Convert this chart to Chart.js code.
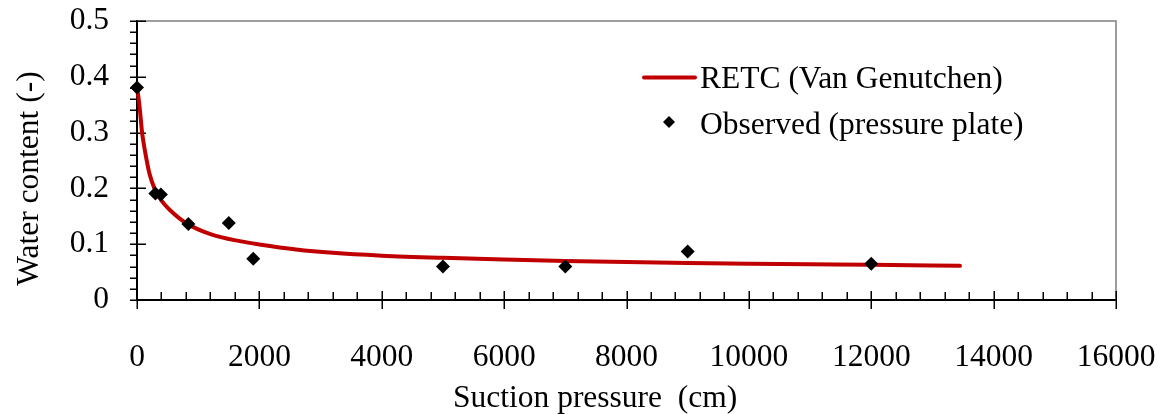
<!DOCTYPE html>
<html>
<head>
<meta charset="utf-8">
<script src="https://cdn.jsdelivr.net/npm/chart.js@4/dist/chart.umd.min.js"></script>
<style>
  html, body { margin: 0; padding: 0; background: #ffffff; }
  canvas { display: block; }
</style>
</head>
<body>
<canvas id="c" width="1169" height="414"></canvas>
<script>
// ---- data ----
const curveSuction = [0, 25, 50, 80, 110, 150, 200, 285, 400, 550, 800, 1200, 1700, 2000, 2600, 3200, 4000, 5000, 6000, 7000, 8000, 9000, 10000, 11000, 12000, 13450];
const curveWater   = [0.380, 0.362, 0.338, 0.303, 0.280, 0.255, 0.228, 0.200, 0.178, 0.160, 0.138, 0.118, 0.105, 0.0995, 0.0905, 0.0845, 0.0795, 0.0755, 0.0725, 0.0700, 0.0680, 0.0663, 0.0650, 0.0640, 0.0632, 0.0612];
const obsSuction = [0, 300, 390, 840, 1500, 1900, 5000, 7000, 9000, 12000];
const obsWater   = [0.381, 0.191, 0.189, 0.136, 0.138, 0.074, 0.060, 0.060, 0.087, 0.065];
const xTickLabels = ['0', '2000', '4000', '6000', '8000', '10000', '12000', '14000', '16000'];
const yTickLabels = ['0', '0.1', '0.2', '0.3', '0.4', '0.5'];
const seriesNames = ['Observed (pressure plate)', 'RETC (Van Genutchen)'];
const xTitle = 'Suction pressure  (cm)';
const yTitle = 'Water content (-)';

const FONT = '"Liberation Serif", "Times New Roman", serif';
const FS = 31.5;
const RED = '#C00000';

const toPts = (xs, ys) => xs.map((x, i) => ({ x: x, y: ys[i] }));

const decor = {
  id: 'decor',
  beforeDatasetsDraw(chart) {
    const { ctx, chartArea: a, scales: { x, y } } = chart;
    ctx.save();
    // grey frame (top & right)
    ctx.strokeStyle = '#7f7f7f';
    ctx.lineWidth = 1.5;
    ctx.beginPath();
    ctx.moveTo(a.left, a.top);
    ctx.lineTo(a.right, a.top);
    ctx.lineTo(a.right, a.bottom);
    ctx.stroke();
    // ticks
    ctx.strokeStyle = '#000';
    ctx.lineWidth = 1.5;
    ctx.beginPath();
    for (let i = 0; i <= 25; i++) {
      const py = Math.round(y.getPixelForValue(i * 0.02)) + 0.25;
      if (i % 5 === 0) { ctx.moveTo(a.left - 7, py); ctx.lineTo(a.left + 9, py); }
      else { ctx.moveTo(a.left - 7, py); ctx.lineTo(a.left, py); }
    }
    for (let i = 0; i <= 40; i++) {
      const px = Math.round(x.getPixelForValue(i * 400)) + 0.25;
      if (i % 5 === 0) { ctx.moveTo(px, a.bottom - 9); ctx.lineTo(px, a.bottom + 9); }
      else { ctx.moveTo(px, a.bottom - 8); ctx.lineTo(px, a.bottom); }
    }
    ctx.stroke();
    ctx.restore();
  },
  afterDraw(chart) {
    const { ctx } = chart;
    const ds = chart.data.datasets;
    ctx.save();
    ctx.fillStyle = '#000';
    ctx.font = FS + 'px ' + FONT;
    ctx.textAlign = 'left';
    ctx.textBaseline = 'alphabetic';
    // legend: line entry
    ctx.strokeStyle = RED;
    ctx.lineWidth = 4;
    ctx.lineCap = 'round';
    ctx.beginPath();
    ctx.moveTo(644, 77.5);
    ctx.lineTo(695, 77.5);
    ctx.stroke();
    ctx.fillText(ds[1].label, 700, 88);
    // legend: marker entry
    const cx = 669, cy = 122, r = 6;
    ctx.beginPath();
    ctx.moveTo(cx - r, cy); ctx.lineTo(cx, cy - r); ctx.lineTo(cx + r, cy); ctx.lineTo(cx, cy + r);
    ctx.closePath();
    ctx.fill();
    ctx.fillText(ds[0].label, 700, 134);
    // axis titles
    ctx.fillText(xTitle, 453, 407);
    ctx.translate(38, 178.5);
    ctx.rotate(-Math.PI / 2);
    ctx.textAlign = 'center';
    ctx.fillText(yTitle, 0, 0);
    ctx.restore();
  }
};

new Chart(document.getElementById('c'), {
  type: 'scatter',
  data: {
    datasets: [
      {
        label: seriesNames[0],
        data: toPts(obsSuction, obsWater),
        pointStyle: 'rectRot',
        pointRadius: 7,
        pointHoverRadius: 7,
        backgroundColor: '#000',
        borderColor: '#000',
        borderWidth: 0,
        showLine: false,
        order: 0,
        clip: false
      },
      {
        label: seriesNames[1],
        data: toPts(curveSuction, curveWater),
        showLine: true,
        borderColor: RED,
        backgroundColor: RED,
        borderWidth: 4,
        borderCapStyle: 'round',
        pointRadius: 0,
        pointHoverRadius: 0,
        cubicInterpolationMode: 'monotone',
        fill: false,
        order: 1,
        clip: false
      }
    ]
  },
  options: {
    responsive: false,
    animation: false,
    devicePixelRatio: 1,
    layout: { padding: { left: 0, top: 21, right: 53, bottom: 0 } },
    plugins: {
      legend: { display: false },
      tooltip: { enabled: false }
    },
    scales: {
      x: {
        type: 'linear',
        min: 0, max: 16000,
        afterFit: (s) => { s.height = 114; s.paddingLeft = 0; s.paddingRight = 0; s.paddingTop = 0; s.paddingBottom = 0; },
        grid: { display: false },
        border: { display: true, color: '#000', width: 2 },
        ticks: {
          stepSize: 2000,
          padding: 31,
          color: '#000',
          maxRotation: 0,
          autoSkip: false,
          font: { family: FONT, size: FS, lineHeight: 1.2 },
          callback: (v, i) => xTickLabels[i]
        },
        title: { display: false }
      },
      y: {
        type: 'linear',
        min: 0, max: 0.5,
        afterFit: (s) => { s.width = 137; s.paddingLeft = 0; s.paddingRight = 0; s.paddingTop = 0; s.paddingBottom = 0; },
        grid: { display: false },
        border: { display: true, color: '#000', width: 2 },
        ticks: {
          stepSize: 0.1,
          padding: 20,
          color: '#000',
          autoSkip: false,
          font: { family: FONT, size: FS, lineHeight: 1.2 },
          callback: (v, i) => yTickLabels[i]
        },
        title: { display: false }
      }
    }
  },
  plugins: [decor]
});
</script>
</body>
</html>
